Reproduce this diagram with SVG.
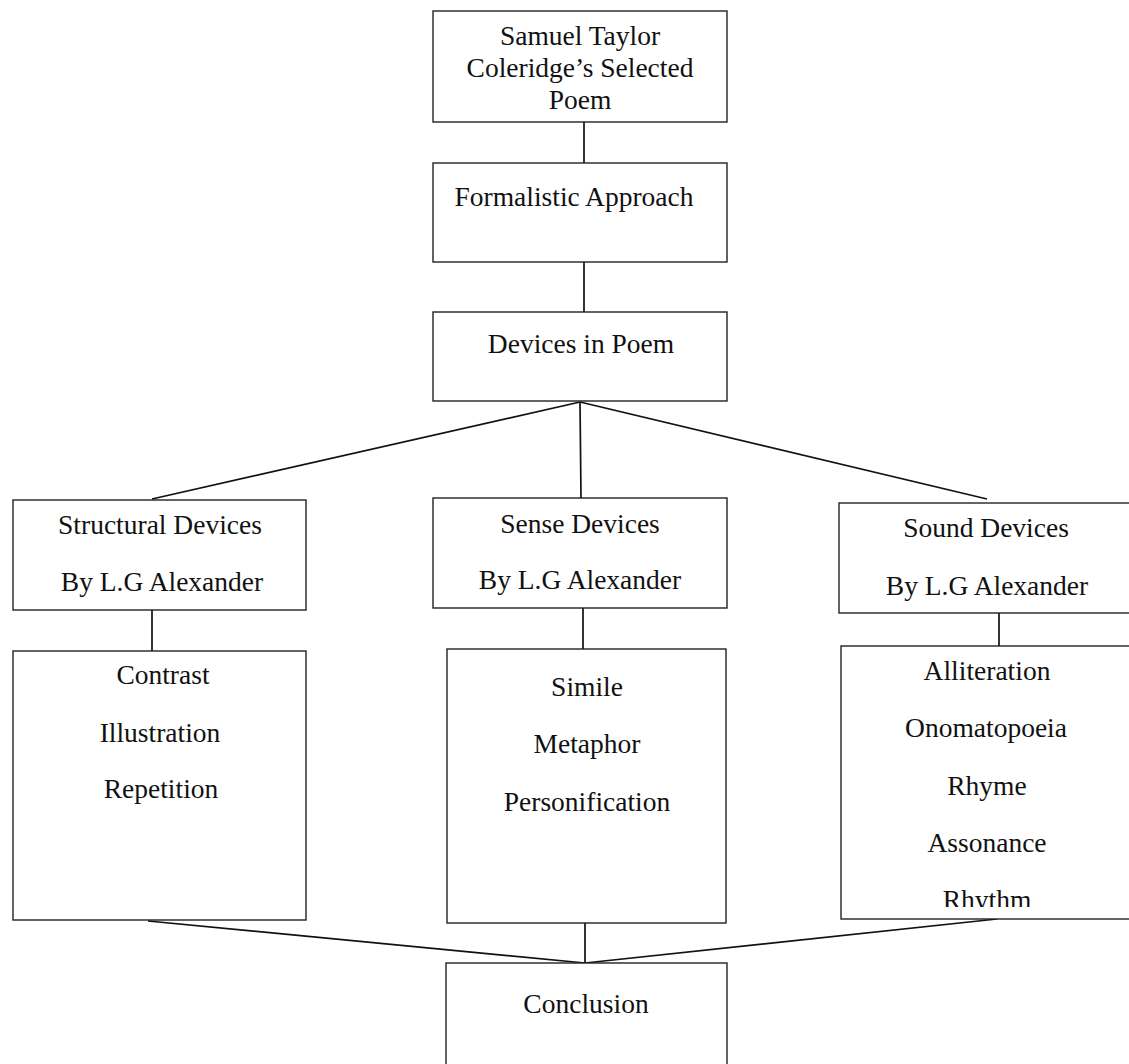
<svg xmlns="http://www.w3.org/2000/svg" width="1129" height="1064" viewBox="0 0 1129 1064">
<style>
.box{fill:#fff;stroke:#222;stroke-width:1.4}
.t{font-family:"Liberation Serif","Times New Roman",serif;font-size:27.5px;fill:#111;text-anchor:middle}
.c{stroke:#111;stroke-width:1.7;fill:none}
</style>
<defs>
<clipPath id="clipSound"><rect x="841" y="646" width="300" height="261"/></clipPath>
</defs>
<rect width="1129" height="1064" fill="#fff"/>
<g id="connectors">
<line class="c" x1="584" y1="122" x2="584" y2="163"/>
<line class="c" x1="584" y1="262" x2="584" y2="312"/>
<line class="c" x1="580" y1="402" x2="152" y2="499"/>
<line class="c" x1="580" y1="402" x2="581" y2="498"/>
<line class="c" x1="580" y1="402" x2="987" y2="499"/>
<line class="c" x1="152" y1="610" x2="152" y2="651"/>
<line class="c" x1="583" y1="608" x2="583" y2="649"/>
<line class="c" x1="999" y1="613" x2="999" y2="646"/>
<line class="c" x1="148" y1="921" x2="585" y2="963"/>
<line class="c" x1="585" y1="923" x2="585" y2="963"/>
<line class="c" x1="997" y1="919" x2="585" y2="963"/>
</g>
<g id="n-poem">
<rect class="box" x="433" y="11" width="294" height="111"/>
<text class="t" x="580" y="45">Samuel Taylor</text>
<text class="t" x="580" y="77">Coleridge’s Selected</text>
<text class="t" x="580" y="109">Poem</text>
</g>
<g id="n-formal">
<rect class="box" x="433" y="163" width="294" height="99"/>
<text class="t" x="574" y="206">Formalistic Approach</text>
</g>
<g id="n-devices">
<rect class="box" x="433" y="312" width="294" height="89"/>
<text class="t" x="581" y="353">Devices in Poem</text>
</g>
<g id="n-structural">
<rect class="box" x="13" y="500" width="293" height="110"/>
<text class="t" x="160" y="534">Structural Devices</text>
<text class="t" x="162" y="591">By L.G Alexander</text>
</g>
<g id="n-sense">
<rect class="box" x="433" y="498" width="294" height="110"/>
<text class="t" x="580" y="533">Sense Devices</text>
<text class="t" x="580" y="589">By L.G Alexander</text>
</g>
<g id="n-sound">
<rect class="box" x="839" y="503" width="300" height="110"/>
<text class="t" x="986" y="537">Sound Devices</text>
<text class="t" x="987" y="595">By L.G Alexander</text>
</g>
<g id="n-structural-list">
<rect class="box" x="13" y="651" width="293" height="269"/>
<text class="t" x="163" y="684">Contrast</text>
<text class="t" x="160" y="742">Illustration</text>
<text class="t" x="161" y="798">Repetition</text>
</g>
<g id="n-sense-list">
<rect class="box" x="447" y="649" width="279" height="274"/>
<text class="t" x="587" y="696">Simile</text>
<text class="t" x="587" y="753">Metaphor</text>
<text class="t" x="587" y="811">Personification</text>
</g>
<g id="n-sound-list">
<rect class="box" x="841" y="646" width="300" height="273"/>
<g clip-path="url(#clipSound)">
<text class="t" x="987" y="680">Alliteration</text>
<text class="t" x="986" y="737">Onomatopoeia</text>
<text class="t" x="987" y="795">Rhyme</text>
<text class="t" x="987" y="852">Assonance</text>
<text class="t" x="987" y="909">Rhythm</text>
</g>
</g>
<g id="n-conclusion">
<rect class="box" x="446" y="963" width="281" height="110"/>
<text class="t" x="586" y="1013">Conclusion</text>
</g>
</svg>
